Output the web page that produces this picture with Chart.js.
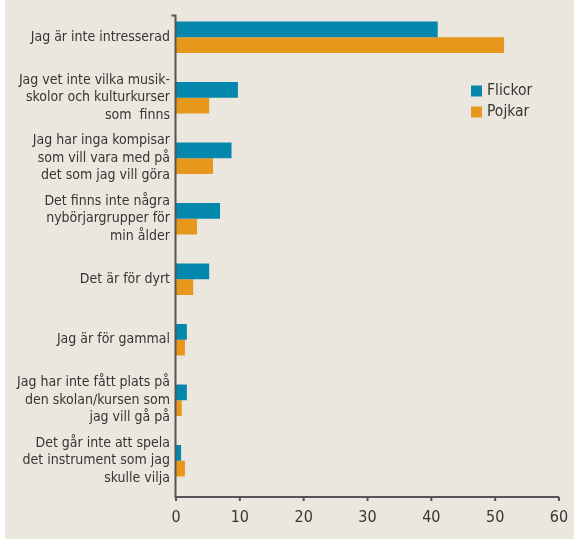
<!DOCTYPE html>
<html lang="sv">
<head>
<meta charset="utf-8">
<title>Varför inte musikskola</title>
<script src="https://cdn.jsdelivr.net/npm/chart.js@4/dist/chart.umd.min.js"></script>
<style>
    html, body { margin: 0; padding: 0; background: #ffffff; }
    #wrap { width: 574px; height: 541px; }
</style>
</head>
<body>
<div id="wrap"><canvas id="reasonChart" width="574" height="541"></canvas></div>
<script>
const categories = [
    "Jag är inte intresserad",
    ["Jag vet inte vilka musik-", "skolor och kulturkurser", "som  finns"],
    ["Jag har inga kompisar", "som vill vara med på", "det som jag vill göra"],
    ["Det finns inte några", "nybörjargrupper för", "min ålder"],
    "Det är för dyrt",
    "Jag är för gammal",
    ["Jag har inte fått plats på", "den skolan/kursen som", "jag vill gå på"],
    ["Det går inte att spela", "det instrument som jag", "skulle vilja"]
];
const flickor = [41.0, 9.7, 8.7, 6.9, 5.2, 1.7, 1.7, 0.8];
const pojkar = [51.4, 5.2, 5.8, 3.3, 2.7, 1.4, 0.9, 1.4];
const seriesNames = ["Flickor", "Pojkar"];
const xTicks = [0, 10, 20, 30, 40, 50, 60];

const FONT = "'DejaVu Sans Condensed', 'Liberation Sans Narrow', sans-serif";
const TEXT = "#353535";
const AXIS = "#555555";

document.addEventListener("DOMContentLoaded", function () {

    // beige panel behind everything
    const backdrop = {
        id: "backdrop",
        beforeDraw(chart) {
            const c = chart.ctx;
            c.save();
            c.fillStyle = "#ece7de";
            c.fillRect(5, 0, chart.width - 5, 539);
            c.restore();
        }
    };

    // axis lines and ticks drawn by hand so they sit a bit outside the bar area
    const axes = {
        id: "axes",
        afterDatasetsDraw(chart) {
            const c = chart.ctx;
            const a = chart.chartArea;
            const x = chart.scales.x;
            const left = x.getPixelForValue(0);
            const top = a.top + 8.5;
            const bottom = a.bottom + 6;
            c.save();
            c.strokeStyle = AXIS;
            c.lineWidth = 2;
            c.beginPath();
            c.moveTo(left - 4.5, top);
            c.lineTo(left - 0.5, top);
            c.lineTo(left - 0.5, bottom);
            c.lineTo(x.getPixelForValue(60), bottom);
            xTicks.forEach(function (v) {
                const px = x.getPixelForValue(v);
                c.moveTo(px, bottom);
                c.lineTo(px, bottom + 4);
            });
            c.stroke();
            c.restore();
        }
    };

    // legend placed inside the plot like the original
    const sideLegend = {
        id: "sideLegend",
        afterDraw(chart) {
            const c = chart.ctx;
            c.save();
            c.font = "15.5px " + FONT;
            c.textBaseline = "middle";
            chart.data.datasets.forEach(function (ds, i) {
                const y = 91 + i * 21;
                c.fillStyle = ds.backgroundColor;
                c.fillRect(471, y - 5.5, 11, 11);
                c.fillStyle = TEXT;
                c.fillText(ds.label, 487, y);
            });
            c.restore();
        }
    };

    new Chart(document.getElementById("reasonChart"), {
        type: "bar",
        data: {
            labels: categories,
            datasets: [{
                label: seriesNames[0],
                data: flickor,
                backgroundColor: "#0487ad"
            }, {
                label: seriesNames[1],
                data: pojkar,
                backgroundColor: "#e8971d"
            }]
        },
        options: {
            indexAxis: "y",
            responsive: false,
            animation: false,
            devicePixelRatio: 1,
            layout: { padding: { top: 7, right: 15, left: 0, bottom: 0 } },
            datasets: {
                bar: { categoryPercentage: 0.52, barPercentage: 1 }
            },
            plugins: {
                legend: { display: false },
                tooltip: { enabled: false }
            },
            scales: {
                x: {
                    min: 0,
                    max: 60,
                    afterFit(s) {
                        s.height = 50;
                        s.paddingLeft = 0;
                        s.paddingRight = 0;
                    },
                    afterBuildTicks(s) { s.ticks = xTicks.map(function (v) { return { value: v }; }); },
                    grid: { display: false, drawTicks: false },
                    border: { display: false },
                    ticks: {
                        color: TEXT,
                        padding: 17,
                        maxRotation: 0,
                        font: { family: FONT, size: 16 }
                    }
                },
                y: {
                    afterFit(s) {
                        s.width = 176;
                        s.paddingTop = 0;
                        s.paddingBottom = 0;
                    },
                    grid: { display: false, drawTicks: false },
                    border: { display: false },
                    ticks: {
                        color: TEXT,
                        padding: 6,
                        autoSkip: false,
                        font: { family: FONT, size: 14, lineHeight: "17.5px" }
                    }
                }
            }
        },
        plugins: [backdrop, axes, sideLegend]
    });
});
</script>
</body>
</html>
